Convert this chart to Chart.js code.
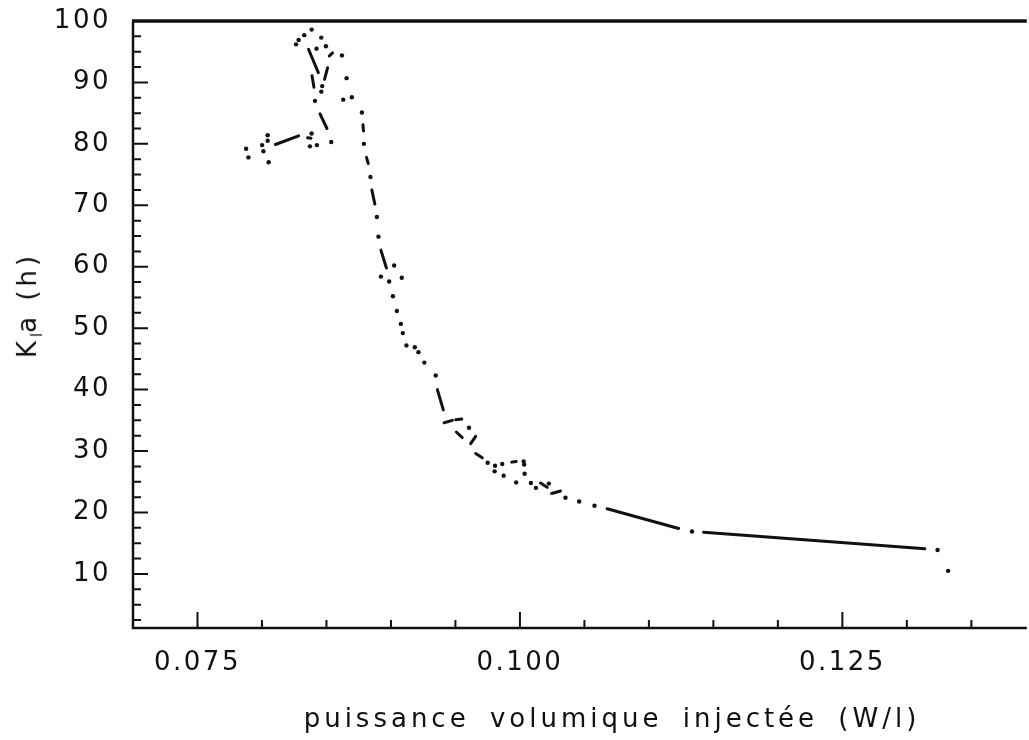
<!DOCTYPE html>
<html>
<head>
<meta charset="utf-8">
<title>Kla en fonction de la puissance volumique</title>
<script src="https://cdn.jsdelivr.net/npm/chart.js@4"></script>
<style>
    html, body { margin: 0; padding: 0; background: #fff; overflow: hidden; }
    #wrap { position: relative; width: 1029px; height: 740px; }
    .axis-title {
        position: absolute;
        font-family: 'DejaVu Sans', sans-serif;
        font-size: 26px;
        color: #111;
        white-space: nowrap;
    }
    #xtitle { left: 612px; top: 718px; letter-spacing: 4px; word-spacing: 8px; transform: translate(-50%, -50%); }
    #ytitle { left: 29px; top: 305px; letter-spacing: 4px; transform: translate(-50%, -50%) rotate(-90deg); }
    #ytitle sub { font-size: 15px; letter-spacing: 0; }
</style>
</head>
<body>
<div id="wrap">
    <canvas id="kla-chart"></canvas>
    <div class="axis-title" id="xtitle">puissance volumique injectée (W/l)</div>
    <div class="axis-title" id="ytitle">K<sub>l</sub>a (h)</div>
</div>
<script>
const xTickLabels = ['0.075', '0.100', '0.125'];
const yTickLabels = ['10', '20', '30', '40', '50', '60', '70', '80', '90', '100'];

// isolated measurement points
const dotX = [
    0.08385, 0.08328, 0.08284, 0.08264, 0.08460, 0.08423, 0.08496, 0.08620,
    0.08467, 0.08460, 0.08656, 0.08411, 0.08630, 0.08697, 0.08537, 0.08775,
    0.08790, 0.08841, 0.08044, 0.08044, 0.08001, 0.08011, 0.07877, 0.07895,
    0.08052, 0.08385, 0.08372, 0.08426, 0.08891, 0.08903, 0.09025, 0.08922,
    0.08986, 0.09084, 0.09015, 0.09046, 0.09077, 0.09092, 0.09120, 0.09185,
    0.09213, 0.09259, 0.09347, 0.09605, 0.09750, 0.09807, 0.09804, 0.09863,
    0.10029, 0.10033, 0.09874, 0.10036, 0.09971, 0.10085, 0.10124, 0.10224,
    0.10353, 0.10459, 0.10578, 0.11334, 0.13238, 0.13320
];
const dotY = [
    98.6, 97.7, 96.9, 96.2, 97.3, 95.5, 95.9, 94.4,
    89.4, 88.5, 90.7, 87.0, 87.2, 87.6, 80.3, 85.1,
    80.0, 74.6, 81.4, 80.5, 79.8, 78.8, 79.2, 77.8,
    77.0, 81.7, 79.6, 79.8, 68.1, 64.9, 60.2, 58.4,
    57.6, 58.2, 55.2, 52.8, 50.7, 49.2, 47.2, 46.9,
    46.1, 44.4, 42.3, 33.8, 28.1, 27.6, 26.7, 27.9,
    28.3, 27.8, 26.0, 26.3, 24.9, 24.8, 24.0, 24.7,
    22.4, 21.8, 21.1, 16.9, 13.9, 10.5
];

// short strokes of the trace: each two consecutive values are start and end
const dashX = [
    0.08361, 0.08437,  0.08522, 0.08547,  0.08509, 0.08485,  0.08388, 0.08403,
    0.08450, 0.08504,  0.08783, 0.08787,  0.08810, 0.08824,  0.08852, 0.08875,
    0.08104, 0.08284,  0.08354, 0.08380,  0.08922, 0.08965,  0.09360, 0.09406,
    0.09412, 0.09476,  0.09502, 0.09549,  0.09507, 0.09553,  0.09618, 0.09657,
    0.09657, 0.09708,  0.09936, 0.09971,  0.10160, 0.10211,  0.10245, 0.10315,
    0.10676, 0.11231,  0.11424, 0.13140
];
const dashY = [
    95.4, 91.6,  94.3, 94.8,  92.4, 90.5,  91.1, 89.2,
    84.9, 82.5,  83.1, 82.1,  77.8, 76.8,  72.5, 70.2,
    79.9, 81.3,  81.0, 80.9,  62.7, 59.8,  40.0, 36.7,
    34.6, 35.0,  35.1, 35.2,  33.1, 32.2,  31.2, 32.4,
    29.6, 28.9,  28.2, 28.3,  24.8, 24.1,  23.1, 23.5,
    20.6, 17.4,  16.8, 14.1
];

const X_MIN = 0.070, X_MAX = 0.1393;
const Y_MIN = 1.2, Y_MAX = 100;

function strokePoints(xs, ys) {
    const pts = [];
    for (let i = 0; i + 1 < xs.length; i += 2) {
        if (i > 0) pts.push({ x: null, y: null });
        pts.push({ x: xs[i], y: ys[i] });
        pts.push({ x: xs[i + 1], y: ys[i + 1] });
    }
    return pts;
}

function labelFor(list, v) {
    const hit = list.find(function (l) { return Math.abs(parseFloat(l) - v) < 1e-9; });
    return hit || '';
}

// frame (left, bottom, top) with ticks pointing into the plot
const framePlugin = {
    id: 'frame',
    beforeDraw(chart) {
        chart.ctx.letterSpacing = '2.5px';
    },
    afterDraw(chart) {
        const ctx = chart.ctx;
        const a = chart.chartArea;
        const xs = chart.scales.x;
        const ys = chart.scales.y;
        ctx.save();
        ctx.strokeStyle = '#111';
        ctx.lineCap = 'butt';

        ctx.lineWidth = 3.5;
        ctx.beginPath();
        ctx.moveTo(a.left - 1, a.top);
        ctx.lineTo(a.right, a.top);
        ctx.stroke();

        ctx.lineWidth = 2.5;
        ctx.beginPath();
        ctx.moveTo(a.left, a.top);
        ctx.lineTo(a.left, a.bottom);
        ctx.lineTo(a.right, a.bottom);
        ctx.stroke();

        ctx.lineWidth = 2;
        ctx.beginPath();
        for (let k = 1; k * 2.5 < Y_MAX; k++) {
            const py = ys.getPixelForValue(k * 2.5);
            const len = k % 4 === 0 ? 15 : 8;
            ctx.moveTo(a.left, py);
            ctx.lineTo(a.left + len, py);
        }
        for (let k = 15; k * 0.005 < X_MAX; k++) {
            const px = xs.getPixelForValue(k * 0.005);
            const len = k % 5 === 0 ? 16 : 8;
            ctx.moveTo(px, a.bottom);
            ctx.lineTo(px, a.bottom - len);
        }
        ctx.stroke();
        ctx.restore();
    }
};

Chart.defaults.font.family = "'DejaVu Sans', sans-serif";
Chart.defaults.font.size = 26;
Chart.defaults.color = '#111';

new Chart(document.getElementById('kla-chart'), {
    type: 'scatter',
    data: {
        datasets: [
            {
                label: 'trace',
                data: strokePoints(dashX, dashY),
                showLine: true,
                spanGaps: false,
                borderColor: '#111',
                borderWidth: 3,
                borderCapStyle: 'round',
                pointRadius: 0,
                pointHoverRadius: 0,
            },
            {
                label: 'points',
                data: dotX.map(function (x, i) { return { x: x, y: dotY[i] }; }),
                backgroundColor: '#111',
                borderWidth: 0,
                pointRadius: 2.2,
                pointHoverRadius: 2.2,
            },
        ],
    },
    options: {
        responsive: true,
        maintainAspectRatio: false,
        animation: false,
        layout: { padding: { top: 21, right: 0, left: 0, bottom: 0 } },
        plugins: {
            legend: { display: false },
            tooltip: { enabled: false },
        },
        scales: {
            x: {
                type: 'linear',
                min: X_MIN,
                max: X_MAX,
                grid: { display: false, drawTicks: false },
                border: { display: false },
                ticks: {
                    autoSkip: false,
                    maxRotation: 0,
                    padding: 20,
                    callback: function (v) { return labelFor(xTickLabels, v); },
                },
                afterBuildTicks: function (s) {
                    s.ticks = xTickLabels.map(function (l) { return { value: parseFloat(l) }; });
                },
                afterFit: function (s) {
                    s.height = 112;
                    s.paddingLeft = 0;
                    s.paddingRight = 0;
                },
            },
            y: {
                type: 'linear',
                min: Y_MIN,
                max: Y_MAX,
                grid: { display: false, drawTicks: false },
                border: { display: false },
                ticks: {
                    autoSkip: false,
                    padding: 22,
                    callback: function (v) { return labelFor(yTickLabels, v); },
                },
                afterBuildTicks: function (s) {
                    s.ticks = yTickLabels.map(function (l) { return { value: parseFloat(l) }; });
                },
                afterFit: function (s) {
                    s.width = 133;
                    s.paddingTop = 0;
                    s.paddingBottom = 0;
                },
            },
        },
    },
    plugins: [framePlugin],
});
</script>
</body>
</html>
